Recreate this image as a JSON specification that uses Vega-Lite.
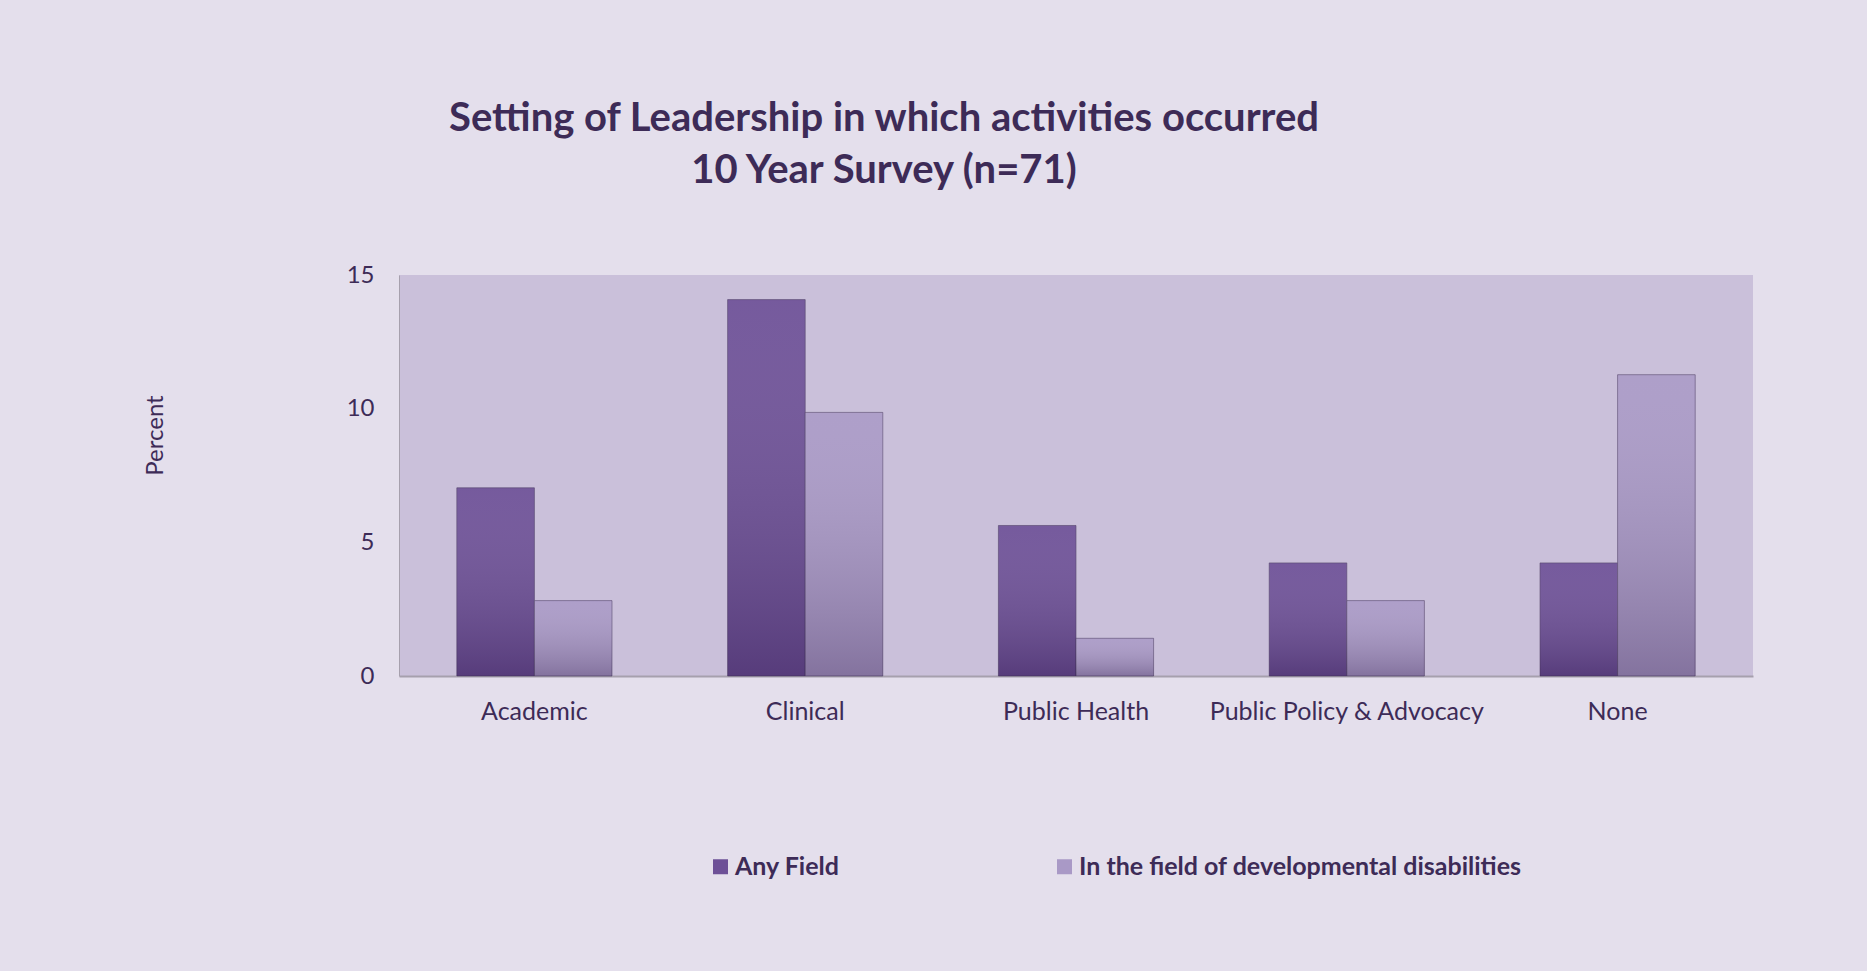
{
  "$schema": "https://vega.github.io/schema/vega-lite/v6.json",
  "width": 1354,
  "height": 401,
  "autosize": {"type": "none"},
  "padding": {"left": 399, "top": 275, "right": 114, "bottom": 295},
  "background": "#e4dfec",
  "config": {
    "font": "Lato",
    "view": {"fill": "#cac0da", "stroke": null}
  },
  "title": {
    "text": ["Setting of Leadership in which activities occurred", "10 Year Survey (n=71)"],
    "anchor": "middle",
    "dx": -192,
    "offset": 72,
    "fontSize": 40,
    "fontWeight": "bold",
    "color": "#3d2b57",
    "lineHeight": 52
  },
  "data": {
    "values": [
      {"category": "Academic", "series": "Any Field", "value": 7.04},
      {"category": "Academic", "series": "In the field of developmental disabilities", "value": 2.82},
      {"category": "Clinical", "series": "Any Field", "value": 14.08},
      {"category": "Clinical", "series": "In the field of developmental disabilities", "value": 9.86},
      {"category": "Public Health", "series": "Any Field", "value": 5.63},
      {"category": "Public Health", "series": "In the field of developmental disabilities", "value": 1.41},
      {"category": "Public Policy & Advocacy", "series": "Any Field", "value": 4.23},
      {"category": "Public Policy & Advocacy", "series": "In the field of developmental disabilities", "value": 2.82},
      {"category": "None", "series": "Any Field", "value": 4.23},
      {"category": "None", "series": "In the field of developmental disabilities", "value": 11.27}
    ]
  },
  "encoding": {
    "x": {
      "field": "category",
      "type": "nominal",
      "sort": null,
      "scale": {"paddingInner": 0.427, "paddingOuter": 0.2135},
      "axis": {
        "title": null,
        "labelAngle": 0,
        "labelFontSize": 25,
        "labelColor": "#3d2b57",
        "labelPadding": 23,
        "labelLimit": 500,
        "ticks": false,
        "domainColor": "#a6a0ad",
        "domainWidth": 2
      }
    },
    "xOffset": {
      "field": "series",
      "type": "nominal",
      "sort": ["Any Field", "In the field of developmental disabilities"],
      "scale": {"paddingInner": 0, "paddingOuter": 0}
    },
    "y": {
      "field": "value",
      "type": "quantitative",
      "scale": {"domain": [0, 15], "nice": false},
      "axis": {
        "title": "Percent",
        "titleFontSize": 24,
        "titleFontWeight": "normal",
        "titleColor": "#3d2b57",
        "titleX": -244,
        "titleY": 160,
        "titleAngle": -90,
        "titleAlign": "center",
        "titleBaseline": "middle",
        "values": [0, 5, 10, 15],
        "grid": false,
        "ticks": false,
        "labelPadding": 25,
        "labelFontSize": 24,
        "labelColor": "#3d2b57",
        "domainColor": "#a6a0ad",
        "domainWidth": 1
      }
    }
  },
  "layer": [
    {
      "mark": {"type": "bar", "stroke": "#4a3a60", "strokeOpacity": 0.55, "strokeWidth": 1},
      "encoding": {
        "color": {
          "field": "series",
          "type": "nominal",
          "scale": {
            "domain": ["Any Field", "In the field of developmental disabilities"],
            "range": ["#6d5097", "#a999c6"]
          },
          "legend": {
            "orient": "none",
            "legendX": 309,
            "legendY": 579,
            "direction": "horizontal",
            "title": null,
            "symbolType": "square",
            "symbolSize": 225,
            "symbolStrokeWidth": 0,
            "symbolOpacity": 1,
            "labelFontSize": 25,
            "labelFontWeight": "bold",
            "labelColor": "#3d2b57",
            "labelOffset": 2,
            "labelLimit": 600,
            "columnPadding": 212
          }
        }
      }
    },
    {
      "mark": {
        "type": "bar",
        "fill": {
          "gradient": "linear",
          "x1": 0, "y1": 0, "x2": 0, "y2": 1,
          "stops": [
            {"offset": 0, "color": "rgba(255,255,255,0.06)"},
            {"offset": 1, "color": "rgba(20,0,40,0.25)"}
          ]
        }
      },
      "encoding": {"detail": {"field": "series"}}
    }
  ]
}
